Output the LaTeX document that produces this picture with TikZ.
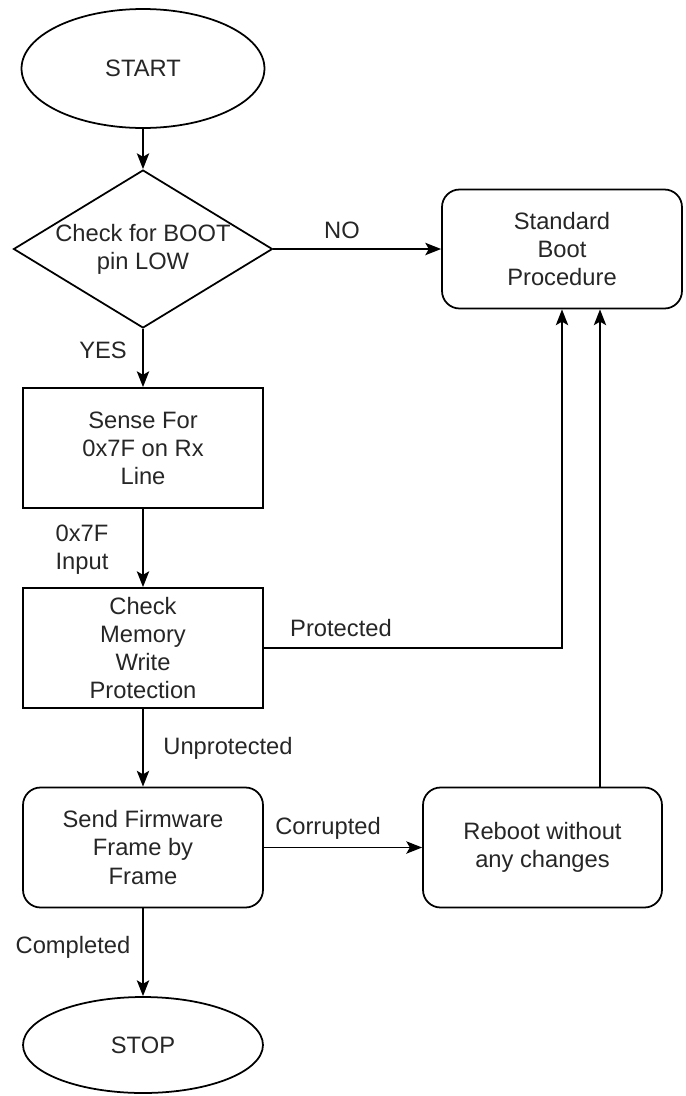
\documentclass[tikz,border=0pt]{standalone}
\usepackage{fontspec}
\setmainfont{Liberation Sans}
\usetikzlibrary{shapes.geometric,arrows.meta}

\begin{document}
\begin{tikzpicture}[x = 0.02cm, y = -0.02cm, line width = 1pt,
  font = \fontsize{13.5}{16}\selectfont,
  >= {Stealth[length = 9pt, width = 7pt, inset = 2pt]},
  box/.style = {draw, inner sep = 2pt, minimum width = 4.8cm, minimum height = 2.4cm, align = center, text = black!85},
  rbox/.style = {box, rounded corners = 0.35cm},
  term/.style = {draw, ellipse, text = black!85},
  lbl/.style = {align = center, text = black!85}]
\useasboundingbox (0,0) rectangle (686,1096);
\node (start) [term, minimum width = 4.86cm, minimum height = 2.38cm] at (143, 68.5) {START};
\node (boot) [draw, diamond, aspect = 1.64, inner sep = 0pt, minimum width = 5.18cm, minimum height = 3.16cm, align = center, text = black!85] at (143, 249) {Check for BOOT\\pin LOW};
\node (std) [rbox, minimum height = 2.38cm] at (562, 249) {Standard\\Boot\\Procedure};
\node (sense) [box] at (143, 448) {Sense For\\0x7F on Rx\\Line};
\node (mem) [box] at (143, 648) {Check\\Memory\\Write\\Protection};
\node (send) [rbox] at (143, 847.5) {Send Firmware\\Frame by\\Frame};
\node (reboot) [rbox, minimum width = 4.78cm] at (542.5, 847.5) {Reboot without\\any changes};
\node (stop) [term, minimum width = 4.8cm, minimum height = 1.92cm] at (143, 1045) {STOP};
\node (lno) [lbl] at (342, 230) {NO};
\node (lyes) [lbl] at (103, 350) {YES};
\node (linput) [lbl] at (82, 550) {0x7F\\Input};
\node (lprot) [lbl] at (341, 628) {Protected};
\node (lunprot) [lbl] at (228, 748) {Unprotected};
\node (lcorr) [lbl] at (328, 828) {Corrupted};
\node (ldone) [lbl] at (73, 947) {Completed};
\draw [->] (start) -- (boot);
\draw [->] (boot) -- (std);
\draw [->] (boot) -- (sense);
\draw [->] (sense) -- (mem);
\draw [->] (mem) -| (std);
\draw [->] (mem) -- (send);
\draw [->] (send) -- (reboot);
\coordinate (stdin) at ([xshift = .76cm]std.south);
\draw [->] (reboot.north -| stdin) -- (stdin);
\draw [->] (send) -- (stop);
\end{tikzpicture}
\end{document}
